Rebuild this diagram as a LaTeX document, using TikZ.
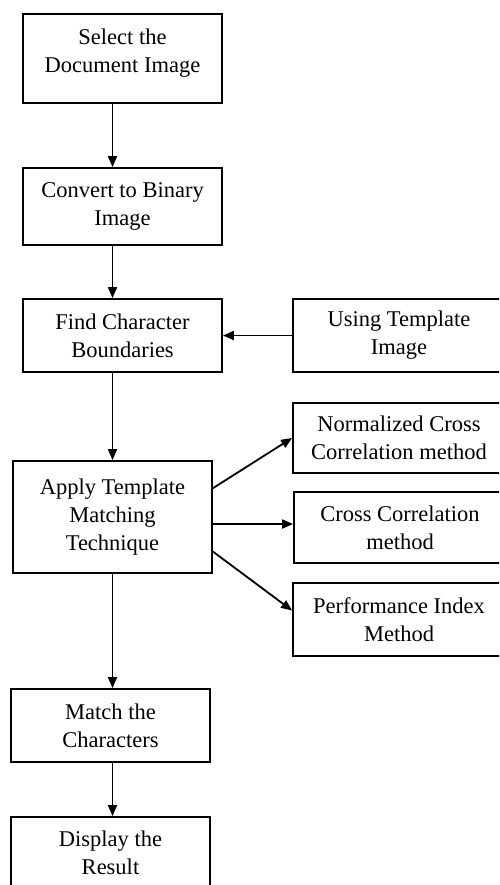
\documentclass[tikz,border=0pt]{standalone}
\usepackage{fontspec}
\setmainfont{Liberation Serif}
\usetikzlibrary{arrows.meta}
\tikzset{
  blk/.style={draw, line width=1.8pt, align=center, inner sep=0pt,
    minimum width=199pt, font=\fontsize{22.5}{28}\selectfont},
  side/.style={blk, minimum width=212pt},
  arr/.style={line width=1.8pt, -{Triangle[length=11pt,width=9pt]}}
}

\begin{document}
\begin{tikzpicture}[x=1pt, y=-1pt]
  \useasboundingbox (0,0) rectangle (499,885);
  \clip (0,0) rectangle (499,885);
  % main column
  \node[blk, minimum height=89pt, text depth=16pt] (sel) at (122.5,58.5) {Select the\\Document Image};
  \node[blk, minimum height=77pt] (conv) at (122.5,206.5) {Convert to Binary\\Image};
  \node[blk, minimum height=73pt] (find) at (122.5,335.5) {Find Character\\Boundaries};
  \node[blk, minimum height=112pt] (apply) at (112.5,517) {Apply Template\\Matching\\Technique};
  \node[blk, minimum height=73pt] (match) at (110.5,725.5) {Match the\\Characters};
  \node[blk, minimum height=72pt] (disp) at (110.5,853) {Display the\\Result};
  % right column
  \node[side, minimum height=73pt] (tmpl) at (399,335.5) {Using Template\\Image};
  \node[side, minimum height=70pt] (ncc) at (399,438) {Normalized Cross\\Correlation method};
  \node[side, minimum height=71pt] (cc) at (400,527.5) {Cross Correlation\\method};
  \node[side, minimum height=73pt] (pim) at (399,619.5) {Performance Index\\Method};

  \draw[arr] (sel.south -| apply) -- (conv.north -| apply);
  \draw[arr] (conv.south -| apply) -- (find.north -| apply);
  \draw[arr] (find.south -| apply) -- (apply.north);
  \draw[arr] (apply.south) -- (match.north -| apply);
  \draw[arr] (match.south -| apply) -- (disp.north -| apply);
  \draw[arr] (tmpl.west) -- (find.east |- tmpl.west);
  \draw[arr] (apply.16) -- (ncc.west);
  \draw[arr] (apply.-4) -- (apply.-4 -| cc.west);
  \draw[arr] (apply.-19) -- ([yshift=9pt]pim.west);
\end{tikzpicture}
\end{document}
